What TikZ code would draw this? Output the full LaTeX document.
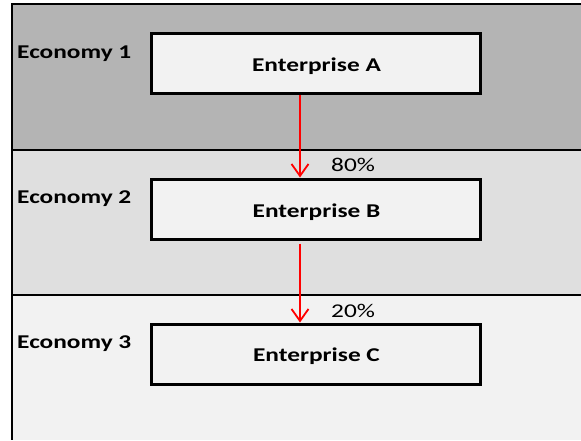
\documentclass[tikz,border=0pt]{standalone}
\usepackage{fontspec}
\setmainfont{Carlito}
\usetikzlibrary{arrows.meta}
\definecolor{bandA}{HTML}{B4B4B4}
\definecolor{bandB}{HTML}{DFDFDF}
\definecolor{bandC}{HTML}{F2F2F2}
\definecolor{boxfill}{HTML}{F2F2F2}
\newcommand\widetext[1]{\scalebox{1.3}[1]{#1}}
\tikzset{
  entbox/.style={draw=black, line width=3pt, fill=boxfill, minimum width=329pt,
    minimum height=60pt, inner sep=0pt},
  enttext/.style={anchor=base, inner sep=0pt, font=\fontsize{19.5}{21}\selectfont\bfseries},
  ecolabel/.style={anchor=base west, inner sep=0pt, font=\fontsize{19.5}{21}\selectfont\bfseries},
  pctlabel/.style={anchor=base west, inner sep=0pt, font=\fontsize{19.5}{21}\selectfont},
  flow/.style={draw=red, line width=1.8pt, -{Straight Barb[length=12pt,width=17pt,line width=1.8pt]}},
  divider/.style={line width=2.2pt, black}
}
\begin{document}
\begin{tikzpicture}[x=1pt, y=-1pt]
  \useasboundingbox (0,0) rectangle (581,440);
  % horizontal bands, one per economy
  \fill[bandA] (11,4) rectangle (581,150);
  \fill[bandB] (11,150) rectangle (581,295);
  \fill[bandC] (11,295) rectangle (581,440);
  \draw[divider] (11,4) -- (581,4);
  \draw[divider] (11,150) -- (581,150);
  \draw[divider] (11,295) -- (581,295);
  \draw[line width=2.5pt] (12,3) -- (12,440);
  % economy labels
  \node[ecolabel] (e1) at (17,58) {\widetext{Economy 1}};
  \node[ecolabel] (e2) at (17,203) {\widetext{Economy 2}};
  \node[ecolabel] (e3) at (17,348) {\widetext{Economy 3}};
  % enterprises
  \node[entbox] (A) at (315.5,63) {};
  \node[entbox] (B) at (315.5,209) {};
  \node[entbox] (C) at (315.5,354) {};
  \node[enttext] (tA) at (316.5,71) {\widetext{Enterprise A}};
  \node[enttext] (tB) at (316.5,217) {\widetext{Enterprise B}};
  \node[enttext] (tC) at (316.5,361.5) {\widetext{Enterprise C}};
  % ownership links
  \coordinate (col) at (300,0);
  \draw[flow] (A.south -| col) -- (B.north -| col);
  \draw[flow, shorten <=3pt] (B.south -| col) -- (C.north -| col);
  \node[pctlabel] (p1) at (331,171.5) {\widetext{80\%}};
  \node[pctlabel] (p2) at (331,317) {\widetext{20\%}};
\end{tikzpicture}
\end{document}
